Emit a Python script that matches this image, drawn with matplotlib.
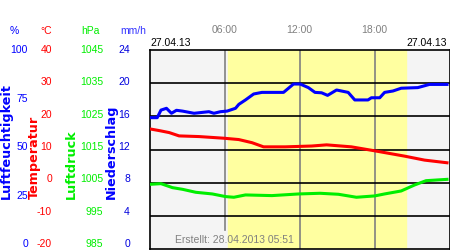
import matplotlib
matplotlib.use("Agg")
import matplotlib.pyplot as plt
import matplotlib.transforms as mtransforms

plt.rcParams['font.family'] = ['Liberation Sans', 'DejaVu Sans']

# ---- data ----
hum_h = [0, 0.58, 0.88, 1.32, 1.72, 2.12, 2.6, 3.53, 4.72, 5.12, 5.65, 6.18, 6.85, 7.12,
         7.65, 8.31, 8.97, 10.7, 11.5, 12.03, 12.69, 13.22, 13.75, 14.23, 14.95, 15.88,
         16.41, 17.47, 17.74, 18.41, 18.8, 19.47, 20.13, 21.46, 22.39, 23.8]
hum_v = [66.0, 66.0, 69.8, 70.7, 68.2, 69.7, 69.3, 68.2, 69.0, 68.2, 69.0, 69.3, 70.7, 72.7,
         74.9, 77.9, 78.7, 78.7, 82.9, 82.9, 81.1, 78.7, 78.5, 77.2, 79.9, 78.7,
         74.9, 74.9, 76.0, 76.0, 78.7, 79.4, 80.8, 81.1, 82.7, 82.7]

temp_h = [0, 0.74, 1.54, 2.33, 3.93, 5.92, 7.11, 8.18, 9.1, 10.84, 12.96, 14.15, 16.14,
          18.01, 20.4, 22.0, 23.8]
temp_v = [16.2, 15.7, 15.1, 14.1, 13.9, 13.4, 13.0, 12.05, 10.8, 10.8, 11.05, 11.4, 10.8,
          9.6, 8.0, 6.8, 6.0]

pres_h = [0, 0.88, 1.8, 2.6, 3.67, 4.99, 6.06, 6.72, 7.65, 9.77, 11.93, 13.63, 15.1,
          16.54, 18.0, 18.8, 20.13, 21.2, 22.12, 23.8]
pres_v = [1004.5, 1004.7, 1003.5, 1003.0, 1002.1, 1001.6, 1000.8, 1000.6, 1001.3, 1001.1,
          1001.6, 1001.8, 1001.5, 1000.6, 1001.0, 1001.6, 1002.5, 1004.3, 1005.6, 1006.0]

hum_ticks = [0, 25, 50, 75, 100]
temp_ticks = [-20, -10, 0, 10, 20, 30, 40]
pres_ticks = [985, 995, 1005, 1015, 1025, 1035, 1045]
rain_ticks = [0, 4, 8, 12, 16, 20, 24]
hour_ticks = [6, 12, 18]
hour_labels = ["06:00", "12:00", "18:00"]
daylight = (6.26, 20.48)
date_left = "27.04.13"
date_right = "27.04.13"
created = "Erstellt: 28.04.2013 05:51"

BLUE = "#0000ff"
RED = "#ff0000"
GREEN = "#00ee00"
GRAY = "#808080"

fig = plt.figure(figsize=(4.5, 2.5), dpi=100)
ax = fig.add_axes([150 / 450, 1 / 250, 299.5 / 450, 199 / 250])
ax.set_xlim(0, 24)
ax.set_ylim(0, 100)
ax.set_facecolor("#f4f4f4")
ax.axvspan(daylight[0], daylight[1], color="#ffffa0", zorder=0)
for i, t in enumerate(hour_ticks):
    ax.axvline(t, ymin=0.095 if i == 0 else 0, color=GRAY, lw=1.2, zorder=1)
for k in range(1, 6):
    ax.axhline(k * 100 / 6, color="black", lw=1.2, zorder=1)
ax.set_xticks([])
ax.set_yticks([])
for s in ax.spines.values():
    s.set_color("black")
    s.set_linewidth(1.2)

ax.plot(hum_h, hum_v, color=BLUE, lw=2.2, zorder=3)
tax = ax.twinx()
tax.set_ylim(-20, 40)
tax.plot(temp_h, temp_v, color=RED, lw=2.2, zorder=3)
pax = ax.twinx()
pax.set_ylim(985, 1045)
pax.plot(pres_h, pres_v, color=GREEN, lw=2.2, zorder=3)
for a in (tax, pax):
    a.set_yticks([])
    a.axis("off")

# left labels
def ylab_pos(v, lo, hi):
    return 0.025 + 0.975 * (v - lo) / (hi - lo)

tr = mtransforms.blended_transform_factory(fig.transFigure, ax.transAxes)
fs = 7.5
for v in hum_ticks:
    fig.text(28 / 450, ylab_pos(v, 0, 100), str(v), transform=tr, color=BLUE, fontsize=fs,
             ha="right", va="center")
for v in temp_ticks:
    fig.text(52 / 450, ylab_pos(v, -20, 40), str(v), transform=tr, color=RED, fontsize=fs,
             ha="right", va="center")
for v in pres_ticks:
    fig.text(103 / 450, ylab_pos(v, 985, 1045), str(v), transform=tr, color=GREEN, fontsize=fs,
             ha="right", va="center")
for v in rain_ticks:
    fig.text(130 / 450, ylab_pos(v, 0, 24), str(v), transform=tr, color="#0000dd", fontsize=fs,
             ha="right", va="center")

uy = 1 - 31 / 250
fig.text(14 / 450, uy, "%", color=BLUE, fontsize=fs, ha="center", va="center")
fig.text(46 / 450, uy, "°C", color=RED, fontsize=fs, ha="center", va="center")
fig.text(90 / 450, uy, "hPa", color=GREEN, fontsize=fs, ha="center", va="center")
fig.text(133 / 450, uy, "mm/h", color="#3333ff", fontsize=fs, ha="center", va="center")

ly = 1 - 199 / 250
lab_kw = dict(fontsize=9.2, fontweight="bold", rotation=90, ha="center", va="bottom",
              family="DejaVu Sans")
fig.text(6 / 450, ly, "Luftfeuchtigkeit", color=BLUE, **lab_kw)
fig.text(34.5 / 450, ly, "Temperatur", color=RED, **lab_kw)
fig.text(71 / 450, ly, "Luftdruck", color=GREEN, **lab_kw)
fig.text(111 / 450, ly, "Niederschlag", color=BLUE, **lab_kw)

# top labels
xtr = mtransforms.blended_transform_factory(ax.transData, fig.transFigure)
for t, lab in zip(hour_ticks, hour_labels):
    fig.text(t, 1 - 30 / 250, lab, transform=xtr, color=GRAY, fontsize=fs, ha="center", va="center")
fig.text(150 / 450, 1 - 43 / 250, date_left, color="black", fontsize=fs, ha="left", va="center")
fig.text(447 / 450, 1 - 43 / 250, date_right, color="black", fontsize=fs, ha="right", va="center")
ax.text(0.083, 0.045, created, transform=ax.transAxes, color=GRAY, fontsize=fs,
        ha="left", va="center", zorder=5)

fig.savefig("out.png", dpi=100)
